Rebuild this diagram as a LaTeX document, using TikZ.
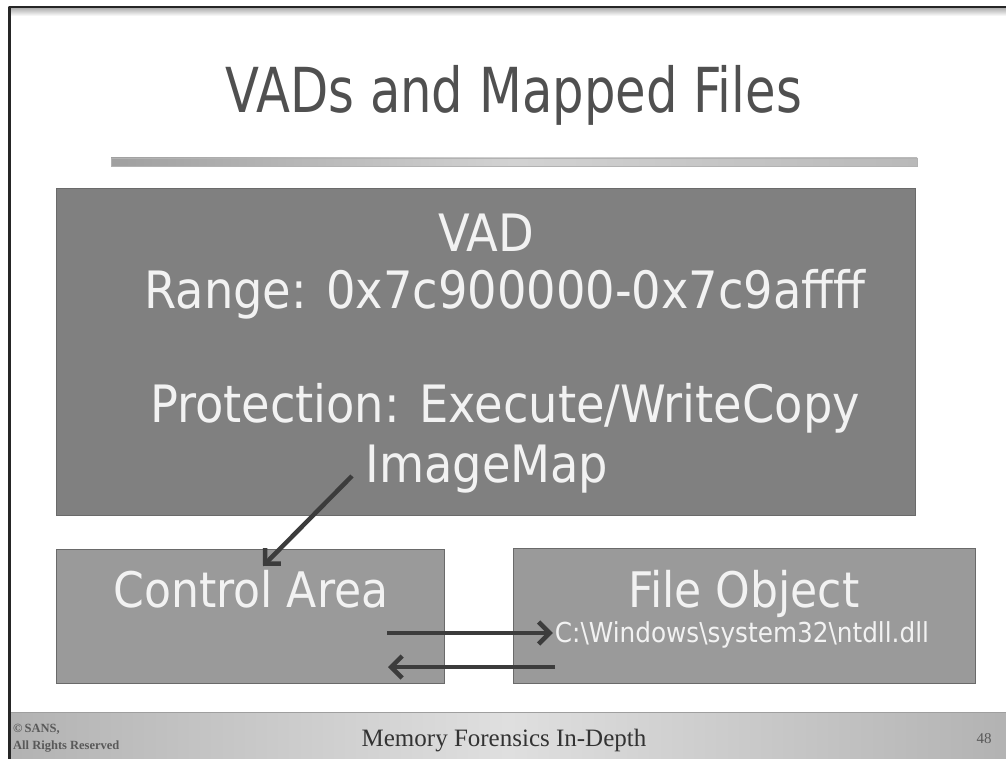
\documentclass[tikz,border=0pt]{standalone}
\usepackage{fontspec}
\usepackage{graphicx}
\setmainfont{DejaVu Sans Condensed}
\newfontfamily\footfont{Liberation Serif}
\usetikzlibrary{arrows.meta}
\definecolor{vadgray}{HTML}{808080}
\definecolor{boxgray}{HTML}{9A9A9A}
\definecolor{edgegray}{HTML}{6A6A6A}
\definecolor{txtlight}{HTML}{F2F2F2}
\definecolor{titlegray}{HTML}{505050}
\definecolor{arrowgray}{HTML}{3C3C3C}
\tikzset{
  px/.style={x=1pt,y=-1pt},
  bigbox/.style={draw=edgegray,line width=0.8pt,fill=vadgray,inner sep=0pt},
  smallbox/.style={draw=edgegray,line width=0.8pt,fill=boxgray,inner sep=0pt},
  boxtext/.style={text=txtlight,inner sep=0pt,anchor=base},
  foottext/.style={text=black!65,inner sep=0pt},
  link/.style={draw=arrowgray,line width=4.5pt,-{Straight Barb[length=11pt,width=22pt,line width=4.5pt]}},
}
\begin{document}
\begin{tikzpicture}[px]
\useasboundingbox (0,0) rectangle (1006,759);
\fill[white] (0,0) rectangle (1006,759);
% slide frame
\fill[top color=gray!70,bottom color=white] (8,7) rectangle (1006,16);
\draw[line width=2pt,black!85] (9,7) -- (1006,7);
% title and rule
\node[text=titlegray,font=\fontsize{62}{72}\selectfont,anchor=base] (title) at (514,113) {\scalebox{0.89}[1]{VADs and Mapped Files}};
\shade[left color=gray!75,right color=gray!55,middle color=gray!35] (111,158) rectangle (917,166);
\draw[gray!60,line width=0.6pt] (111,158) rectangle (917,166);
% boxes
\node[bigbox,minimum width=859pt,minimum height=327pt] (vad) at (486,352) {};
\node[smallbox,minimum width=388pt,minimum height=134pt] (ctrl) at (250.5,616.5) {};
\node[smallbox,minimum width=462pt,minimum height=135pt] (file) at (744,616) {};
% texts in the VAD
\begin{scope}[font=\fontsize{51.5}{60}\selectfont]
\node[boxtext] (vadname) at (486,252) {VAD};
\node[boxtext] (range) at (505,308) {Range: 0x7c900000-0x7c9affff};
\node[boxtext] (prot) at (505,422) {Protection: Execute/WriteCopy};
\node[boxtext] (imgmap) at (487,482) {ImageMap};
\end{scope}
\node[boxtext,font=\fontsize{49}{56}\selectfont] (ctrlname) at (251,607) {Control Area};
\node[boxtext,font=\fontsize{49}{56}\selectfont] (filename) at (744,607) {File Object};
\node[boxtext,font=\fontsize{27.5}{32}\selectfont] (path) at (742,642) {C:\textbackslash Windows\textbackslash system32\textbackslash ntdll.dll};
% connectors
\coordinate (mapfrom) at (352,476);
\coordinate (mapto) at (263,566);
\coordinate (fwdfrom) at (387,633);
\coordinate (fwdto) at ([xshift=-2pt]path.west|-fwdfrom);
\coordinate (backfrom) at (555,667);
\coordinate (backto) at (388,667);
\draw[link] (mapfrom) -- (mapto);
\draw[link] (fwdfrom) -- (fwdto);
\draw[link] (backfrom) -- (backto);
% footer band
\shade[left color=gray!60,right color=gray!60,middle color=gray!25] (10,712) rectangle (1006,759);
\draw[gray!75,line width=1pt] (10,712) -- (1006,712);
\draw[line width=3pt,black!85] (9.5,7) -- (9.5,759);
\node[foottext,font=\footfont\bfseries\fontsize{12.5}{14}\selectfont,anchor=base west] (copy) at (13,732) {\textcopyright\,SANS,};
\node[foottext,font=\footfont\bfseries\fontsize{12.5}{14}\selectfont,anchor=base west] (rights) at (13,749) {All Rights Reserved};
\node[font=\footfont\fontsize{25}{30}\selectfont,text=black!80,anchor=base] (course) at (504,746) {Memory Forensics In-Depth};
\node[foottext,font=\footfont\fontsize{15}{18}\selectfont,anchor=base] (page) at (984,743) {48};
\end{tikzpicture}
\end{document}
